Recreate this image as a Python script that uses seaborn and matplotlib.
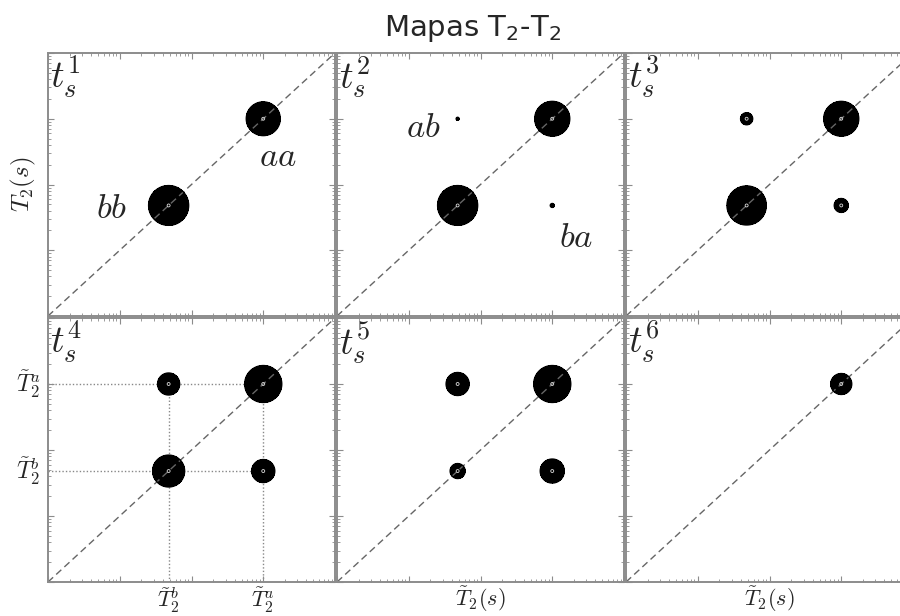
import numpy as np
import matplotlib
matplotlib.use("Agg")
import matplotlib.pyplot as plt
from matplotlib.ticker import LogLocator, NullFormatter
import seaborn as sns

# Relaxation times of the two sites (s)
T2_a = 0.10
T2_b = 0.0048

# Axis range shared by every map (s)
T2_range = [1e-4, 1e0]

panel_labels = [r"$t_s^1$", r"$t_s^2$", r"$t_s^3$", r"$t_s^4$", r"$t_s^5$", r"$t_s^6$"]

# Peak heights (arbitrary units) at each storage time
amp_aa = [7.0, 7.9, 7.9, 10.1, 10.1, 2.1]
amp_bb = [14.9, 14.9, 13.5, 5.6, 1.46, 0.0]
amp_ab = [0.0, 1.015, 1.28, 2.27, 2.45, 0.0]
amp_ba = [0.0, 1.027, 1.39, 2.45, 2.65, 0.0]

# Lowest contour drawn
contour_floor = 1.0

sns.set_theme(style="ticks")
plt.rcParams["font.family"] = ["DejaVu Sans"]
plt.rcParams["mathtext.fontset"] = "cm"

W, H = 900, 616
fig = plt.figure(figsize=(W / 100, H / 100), dpi=100)
fig.patch.set_facecolor("white")

col_left = [48, 337, 626]
col_w = 287
row_top = [53, 318]
row_h = [263, 264]

# log10 grid on which the maps are evaluated
u = np.linspace(np.log10(T2_range[0]), np.log10(T2_range[1]), 700)
UX, UY = np.meshgrid(u, u)
GX, GY = 10 ** UX, 10 ** UY
sx, sy = 0.12, 0.13


def peak(amp, x0, y0):
    return amp * np.exp(-((UX - np.log10(x0)) ** 2 / (2 * sx ** 2)
                          + (UY - np.log10(y0)) ** 2 / (2 * sy ** 2)))


frame_col = "#8c8c8c"
axes = []
for i in range(6):
    r, c = divmod(i, 3)
    left = col_left[c] / W
    bottom = (H - row_top[r] - row_h[r]) / H
    ax = fig.add_axes([left, bottom, col_w / W, row_h[r] / H])
    axes.append(ax)
    ax.set_xscale("log")
    ax.set_yscale("log")

    peaks = [(amp_aa[i], T2_a, T2_a), (amp_bb[i], T2_b, T2_b),
             (amp_ab[i], T2_b, T2_a), (amp_ba[i], T2_a, T2_b)]
    Z = sum(peak(a, x0, y0) for a, x0, y0 in peaks)

    # diagonal T2 = T2~
    sns.lineplot(x=T2_range, y=T2_range, ax=ax, color="#666666",
                 linestyle=(0, (5, 3)), linewidth=1.0)

    ax.contourf(GX, GY, Z, levels=[contour_floor, Z.max() + 1], colors="black")
    ax.contour(GX, GY, Z, levels=[contour_floor], colors="black", linewidths=1.0)
    # small light ring at the summit of each peak
    for a, x0, y0 in peaks:
        if a > 1.1:
            ax.contour(GX, GY, peak(a, x0, y0), levels=[0.985 * a],
                       colors="#dddddd", linewidths=0.6)

    ax.set_xlim(T2_range)
    ax.set_ylim(T2_range)
    for axis in (ax.xaxis, ax.yaxis):
        axis.set_major_locator(LogLocator(base=10, numticks=10))
        axis.set_minor_locator(LogLocator(base=10, subs=np.arange(2, 10), numticks=20))
        axis.set_major_formatter(NullFormatter())
        axis.set_minor_formatter(NullFormatter())
    ax.tick_params(which="both", direction="in", top=True, right=True,
                   bottom=True, left=True, color=frame_col)
    ax.tick_params(which="major", length=4, width=0.8)
    ax.tick_params(which="minor", length=2, width=0.6)
    for sp in ax.spines.values():
        sp.set_color(frame_col)
        sp.set_linewidth(1.4)
    ax.set_xlabel("")
    ax.set_ylabel("")

    ax.text(0.006, 0.995, panel_labels[i], transform=ax.transAxes,
            ha="left", va="top", fontsize=27)

# peak names
axes[0].text(0.223, 0.41, r"$bb$", transform=axes[0].transAxes,
             ha="center", va="center", fontsize=25)
axes[0].text(0.80, 0.61, r"$aa$", transform=axes[0].transAxes,
             ha="center", va="center", fontsize=25)
axes[1].text(0.30, 0.72, r"$ab$", transform=axes[1].transAxes,
             ha="center", va="center", fontsize=25)
axes[1].text(0.835, 0.30, r"$ba$", transform=axes[1].transAxes,
             ha="center", va="center", fontsize=25)

# guide lines marking the two relaxation times
ax4 = axes[3]
ax4.hlines([T2_a, T2_b], T2_range[0], [T2_a, T2_a], colors="#888888",
           linestyles=(0, (1, 1.5)), linewidth=1.0, zorder=0.5)
ax4.vlines([T2_b, T2_a], T2_range[0], [T2_a, T2_a], colors="#888888",
           linestyles=(0, (1, 1.5)), linewidth=1.0, zorder=0.5)
ylab_tr = ax4.get_yaxis_transform()
xlab_tr = ax4.get_xaxis_transform()
ax4.text(-0.025, T2_a, r"$\tilde{T}_2^a$", transform=ylab_tr,
         ha="right", va="center", fontsize=17)
ax4.text(-0.025, T2_b, r"$\tilde{T}_2^b$", transform=ylab_tr,
         ha="right", va="center", fontsize=17)
ax4.text(T2_b, -0.014, r"$\tilde{T}_2^b$", transform=xlab_tr,
         ha="center", va="top", fontsize=16)
ax4.text(T2_a, -0.014, r"$\tilde{T}_2^a$", transform=xlab_tr,
         ha="center", va="top", fontsize=16)

axes[0].text(-0.085, 0.5, r"$T_2(s)$", transform=axes[0].transAxes,
             rotation=90, ha="center", va="center", fontsize=18)
for ax in axes[4:]:
    ax.text(0.5, -0.01, r"$\tilde{T}_2(s)$", transform=ax.transAxes,
            ha="center", va="top", fontsize=16)

fig.text(473 / W, 1 - 29 / H, r"Mapas T$_2$-T$_2$", ha="center", va="center",
         fontsize=21, math_fontfamily="dejavusans")

fig.savefig("out.png", dpi=100)
